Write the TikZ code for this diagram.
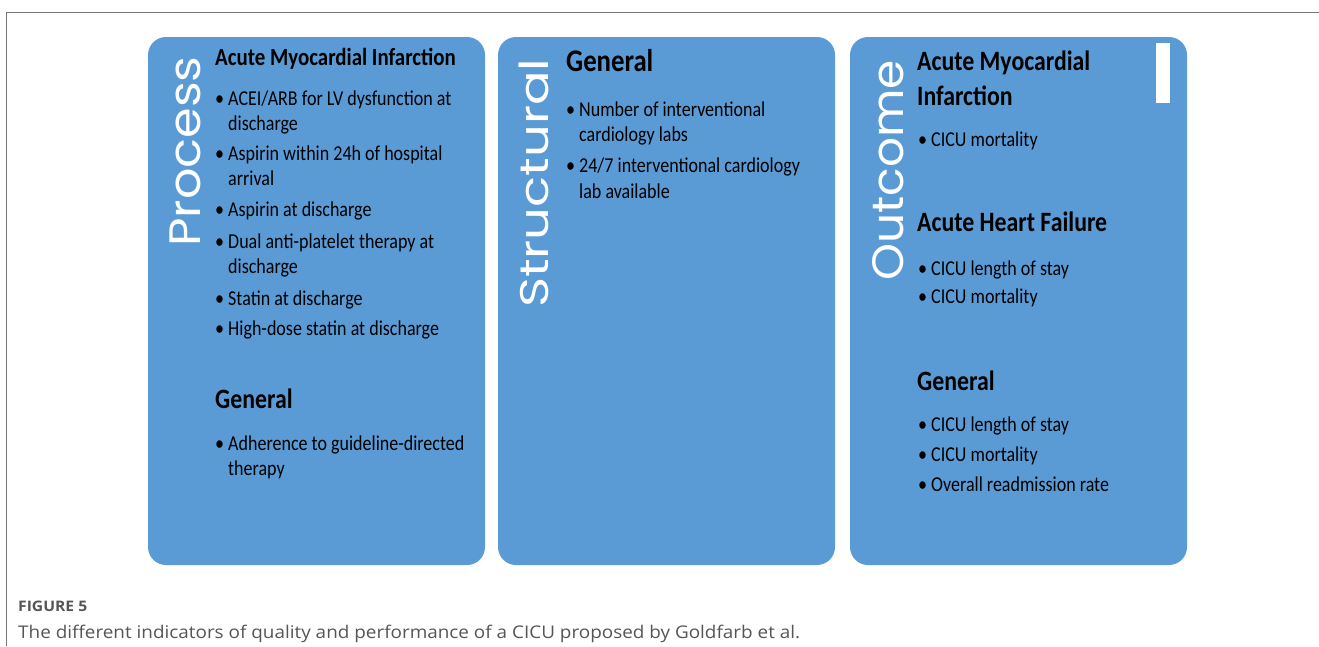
\documentclass[tikz,border=0pt]{standalone}
\usepackage{fontspec}
\usepackage{xcolor}
\usepackage{graphicx}
\newfontfamily\calfont[FakeStretch=0.85]{Carlito}
\newfontfamily\vertfont{Poppins}
\newfontfamily\capfont[FakeStretch=1.08]{Open Sans}
\definecolor{panelblue}{RGB}{91,155,213}
\definecolor{capgray}{RGB}{85,85,85}
\tikzset{
  panel/.style={fill=panelblue, draw=none, rounded corners=18pt},
  side/.style={rotate=90, anchor=base west, inner sep=0pt, text=white, font=\vertfont\fontsize{#1}{#1}\selectfont},
  head/.style={anchor=base west, inner sep=0pt, font=\calfont\bfseries\fontsize{#1}{#1}\selectfont},
  item/.style={anchor=base west, inner sep=0pt, font=\calfont\fontsize{21.2}{21.2}\selectfont},
  bul/.style={item, execute at begin node={\llap{\textbullet\hspace{4pt}}}},
  captext/.style={anchor=base west, inner sep=0pt, text=capgray, font=\capfont\fontsize{#1}{#1}\selectfont}
}

\begin{document}
\begin{tikzpicture}[x=1pt, y=-1pt]
\useasboundingbox (0,0) rectangle (1319,646);
\draw[capgray!80, line width=1pt] (6,646) -- (6,12) -- (1319,12);
\fill[panel] (148,37) rectangle (485,565);
\fill[panel] (498,37) rectangle (835,565);
\fill[panel] (850,37) rectangle (1187,565);
\fill[white] (1156,43) rectangle (1170,103);
\node[side=44] (process) at (200,247) {\scalebox{1.12}[1]{Process}};
\node[side=40] (structural) at (548,308) {\scalebox{1.28}[1]{Structural}};
\node[side=44] (outcome) at (903,281) {\scalebox{1.07}[1]{Outcome}};
% process
\node[head=24.6] (p-ami) at (215,65) {Acute Myocardial Infarction};
\node[bul] (p1) at (228,105) {ACEI/ARB for LV dysfunction at};
\node[item] (p1b) at (228,130) {discharge};
\node[bul] (p2) at (228,160) {Aspirin within 24h of hospital};
\node[item] (p2b) at (228,185) {arrival};
\node[bul] (p3) at (228,216.5) {Aspirin at discharge};
\node[bul] (p4) at (228,248) {Dual anti-platelet therapy at};
\node[item] (p4b) at (228,273) {discharge};
\node[bul] (p5) at (228,305) {Statin at discharge};
\node[bul] (p6) at (228,335) {High-dose statin at discharge};
\node[head=28] (p-gen) at (215,408) {General};
\node[bul] (p7) at (228,450) {Adherence to guideline-directed};
\node[item] (p7b) at (228,475) {therapy};
% structural
\node[head=31.5] (s-gen) at (566,71.5) {General};
\node[bul] (s1) at (579,116.5) {Number of interventional};
\node[item] (s1b) at (579,141) {cardiology labs};
\node[bul] (s2) at (579,172) {24/7 interventional cardiology};
\node[item] (s2b) at (579,198) {lab available};
% outcome
\node[head=28] (o-ami) at (917,70.5) {Acute Myocardial};
\node[head=28] (o-ami2) at (917,105) {Infarction};
\node[bul] (o1) at (931,146.5) {CICU mortality};
\node[head=28] (o-ahf) at (917,231.5) {Acute Heart Failure};
\node[bul] (o2) at (931,275) {CICU length of stay};
\node[bul] (o3) at (931,303.5) {CICU mortality};
\node[head=28] (o-gen) at (917,390) {General};
\node[bul] (o4) at (931,431.5) {CICU length of stay};
\node[bul] (o5) at (931,461.5) {CICU mortality};
\node[bul] (o6) at (931,491.5) {Overall readmission rate};
% caption
\node[captext=14.5] (fig) at (18,611) {\bfseries FIGURE 5};
\node[captext=17.5] (cap) at (18,638) {The different indicators of quality and performance of a CICU proposed by Goldfarb et al.};
\end{tikzpicture}
\end{document}
